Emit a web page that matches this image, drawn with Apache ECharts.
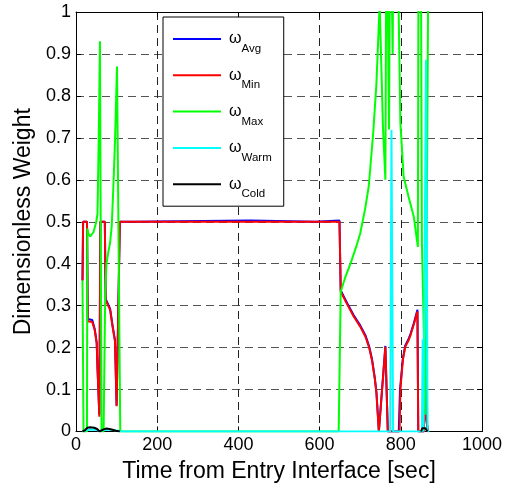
<!DOCTYPE html>
<html><head><meta charset="utf-8">
<script src="https://cdn.jsdelivr.net/npm/echarts@6/dist/echarts.min.js"></script>
<style>html,body{margin:0;padding:0;background:#fff}#c{width:506px;height:489px}</style>
</head><body><div id="c"></div>
<script>
// Series names (legend subscripts)
const seriesNames = ['Avg', 'Min', 'Max', 'Warm', 'Cold'];
// [time (s), weight] pairs
const avgData = [[16,0.36],[17.5,0.5],[27,0.5],[29,0.268],[40,0.266],[46,0.245],[51,0.212],[53,0.15],[57.5,0.04],[60,0.5],[71,0.5],[73,0.316],[84,0.293],[90,0.253],[96,0.218],[100,0.062],[108,0.5],[140,0.5],[141,0.503],[430,0.503],[431,0.5],[590,0.5],[591,0.503],[649,0.503],[652,0.336],[668,0.306],[684,0.277],[700,0.253],[713,0.229],[722,0.203],[729,0.173],[736,0.128],[740,0.094],[746,0],[762,0.204],[765,0.2],[768,0],[795,0],[798,0.1],[805,0.173],[811,0.205],[818,0.218],[824,0.233],[832,0.258],[841,0.29],[843,0],[857,0],[859,0.21],[862,0.035],[865,0.035],[867,0]];
const minData = [[16,0.36],[17.5,0.5],[27,0.5],[29,0.263],[40,0.261],[46,0.242],[51,0.21],[53,0.15],[57.5,0.035],[60,0.5],[71,0.5],[73,0.313],[84,0.29],[90,0.25],[96,0.215],[100,0.06],[108,0.5],[200,0.5],[400,0.5],[600,0.5],[649,0.5],[652,0.333],[668,0.303],[684,0.274],[700,0.25],[713,0.226],[722,0.2],[729,0.17],[736,0.125],[740,0.091],[746,0],[762,0.202],[765,0.2],[768,0],[797,0],[799,0.1],[805,0.17],[811,0.202],[818,0.215],[824,0.23],[832,0.255],[841,0.286],[843,0],[857,0],[859,0.2],[862,0.035],[865,0.035],[867,0]];
const maxData = [[16,0.36],[18.5,0],[27,0],[28,0.484],[31,0.47],[35,0.465],[43,0.475],[50,0.5],[53,0.52],[56,0.7],[59,0.93],[63,0],[68,0],[72,0.33],[75,0.4],[80,0.43],[84,0.45],[88,0.49],[92,0.583],[96,0.69],[101,0.87],[109,0],[647,0],[652,0.333],[664,0.37],[676,0.4],[690,0.44],[700,0.472],[712,0.53],[721,0.584],[732,0.711],[740,0.83],[748,1.02],[756,0.727],[762,0.6],[765,1.3],[768,1.3],[771,0.72],[774,1.3],[778,1.3],[780,0.9],[782,1.3],[790,1.3],[799,0.735],[807,0.607],[819,0.56],[832,0.512],[842,0.44],[844,1.3],[849,1.3],[852,0.45],[861,0.04],[865,0.04],[869,1.3]];
const warmData = [[16,0],[22,0.002],[30,0.004],[40,0.005],[50,0.004],[58,0.001],[65,0.003],[75,0.005],[85,0.004],[95,0.003],[105,0.001],[110,0],[774,0],[777,0.719],[781,0],[852,0],[854,0.22],[856,0],[858,0],[862,0.886],[866,0],[870,0]];
const coldData = [[16,0],[22,0.003],[28,0.009],[35,0.01],[45,0.009],[52,0.006],[58,0],[62,0.002],[68,0.005],[75,0.007],[82,0.006],[90,0.004],[98,0.002],[108,0],[480,null],[850,0],[853,0.008],[860,0.008],[864,0.005],[866,0]];
const seriesColors = ['#0000ff', '#ff0000', '#00ff00', '#00ffff', '#000000'];
const allData = [avgData, minData, maxData, warmData, coldData];

const FONT = 'Liberation Sans, Arial, Helvetica, sans-serif';
const chart = echarts.init(document.getElementById('c'), null, {renderer: 'canvas'});
const gridDash = {show: true, lineStyle: {color: '#222', type: [8, 5], width: 1}};
const baseAxis = (extra) => Object.assign({
  axisLine: {show: true, onZero: false, lineStyle: {color: '#000', width: 1}},
  axisTick: {show: true, inside: true, length: 5, lineStyle: {color: '#000'}},
}, extra);

chart.setOption({
  animation: false,
  backgroundColor: '#fff',
  textStyle: {fontFamily: FONT},
  grid: {left: 76, right: 24, top: 12, bottom: 57.5, containLabel: false},
  legend: {
    orient: 'vertical', left: 163, top: 17,
    icon: 'rect', itemWidth: 48, itemHeight: 2, itemGap: 4.3,
    padding: [6, 12, 6, 10],
    borderColor: '#000', borderWidth: 1, backgroundColor: '#fff',
    data: seriesNames,
    formatter: n => '{w|ω}{s|' + n + '}',
    textStyle: {
      fontFamily: FONT, color: '#000',
      rich: {
        w: {fontSize: 16, lineHeight: 20, fontFamily: FONT, padding: [0, 0, 0, 3]},
        s: {fontSize: 11.5, lineHeight: 12, fontFamily: FONT, padding: [20, 0, 0, 0]}
      }
    }
  },
  xAxis: [
    baseAxis({type: 'value', min: 0, max: 1000, interval: 200, position: 'bottom',
      axisLabel: {color: '#000', fontSize: 18, margin: 5, fontFamily: FONT,
        formatter: v => String(v)},
      splitLine: gridDash,
      name: 'Time from Entry Interface [sec]', nameLocation: 'middle', nameGap: 29,
      nameTextStyle: {fontSize: 23, color: '#000', fontFamily: FONT}}),
    baseAxis({type: 'value', min: 0, max: 1000, interval: 200, position: 'top',
      axisLabel: {show: false}, splitLine: {show: false}})
  ],
  yAxis: [
    baseAxis({type: 'value', min: 0, max: 1, interval: 0.1, position: 'left',
      axisLabel: {color: '#000', fontSize: 18, margin: 5, fontFamily: FONT,
        formatter: v => String(+v.toFixed(1))},
      splitLine: {show: true, lineStyle: {color: '#555', type: [8, 5], width: 1}},
      name: 'Dimensionless Weight', nameLocation: 'middle', nameGap: 40,
      nameTextStyle: {fontSize: 23, color: '#000', fontFamily: FONT}}),
    baseAxis({type: 'value', min: 0, max: 1, interval: 0.1, position: 'right',
      axisLabel: {show: false}, splitLine: {show: false}})
  ],
  series: seriesNames.map((n, i) => ({
    name: n, type: 'line', data: allData[i], xAxisIndex: 0, yAxisIndex: 0,
    showSymbol: false, symbol: 'none', clip: true, connectNulls: false,
    color: seriesColors[i],
    lineStyle: {color: seriesColors[i], width: 2},
    emphasis: {disabled: true}
  }))
});
</script></body></html>
